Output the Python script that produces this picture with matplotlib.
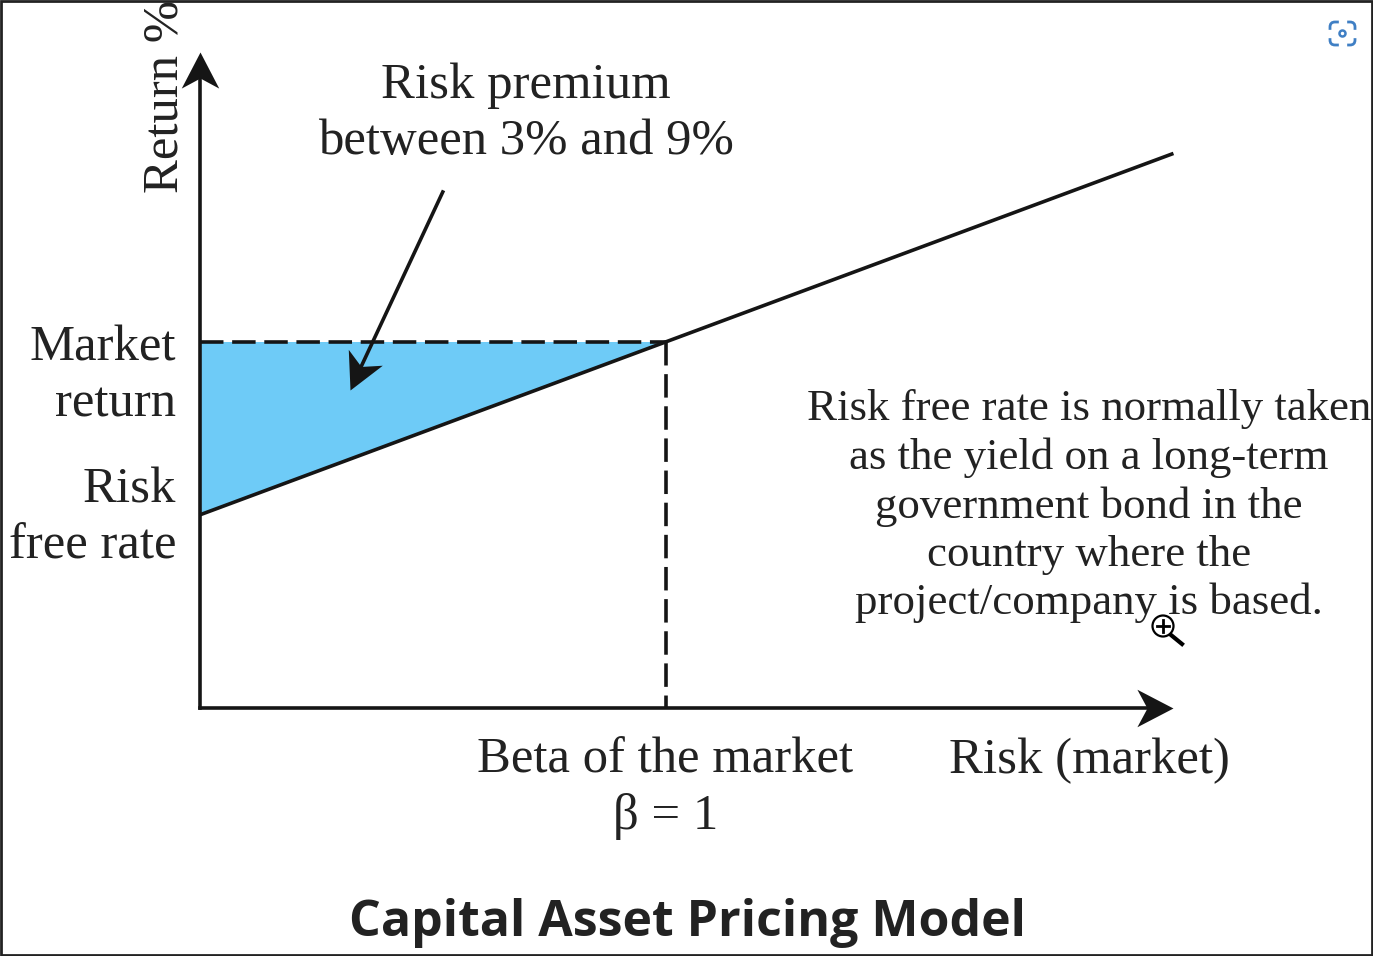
# Math:
import numpy as np

# Plotting:
import matplotlib.pyplot as plt
from matplotlib.markers import MarkerStyle
from matplotlib.patches import Polygon, Circle, Rectangle, FancyBboxPatch
from matplotlib.path import Path
from matplotlib.transforms import Affine2D

# ===== DATA =====
# Security market line, beta 0 to the end of the line
beta = [0.0, 1.0, 2.09]
expected_return = [0.0, 1.0, 2.09]

# Where the axes stop, in the same units as the line
risk_axis_end = 2.09
return_axis_end = 2.676
risk_axis_floor = -1.115

market_beta = 1.0
market_return = 1.0
risk_free_rate = 0.0

serif_fonts = ["Liberation Serif", "DejaVu Serif"]
title_font = "Open Sans"
line_color = "#151515"
text_color = "#222222"

width_px, height_px = 1373, 956

# Notched arrow head pointing along +x, tip at the origin
head_path = Path([(0, 0), (-1, 0.52), (-0.72, 0), (-1, -0.52), (0, 0)],
                 [Path.MOVETO, Path.LINETO, Path.LINETO, Path.LINETO, Path.CLOSEPOLY])


def draw_arrow(ax, start, tip):
    """Line with a notched head; the head angle is worked out on screen"""
    start_px, tip_px = ax.transData.transform([start, tip])
    delta = tip_px - start_px
    angle = np.degrees(np.arctan2(delta[1], delta[0]))
    # Stop the stem inside the head so it does not poke out of the tip
    stem_end = tip_px - delta / np.hypot(*delta) * 20
    stem_end = ax.transData.inverted().transform(stem_end)
    ax.plot([start[0], stem_end[0]], [start[1], stem_end[1]], color=line_color, lw=2.6, zorder=4,
            solid_capstyle="projecting")
    marker = MarkerStyle(head_path, transform=Affine2D().rotate_deg(angle))
    ax.plot([tip[0]], [tip[1]], marker=marker, markersize=52, color=line_color,
            markeredgewidth=0, zorder=5)


fig = plt.figure(figsize=(width_px / 100, height_px / 100), dpi=100)
ax = fig.add_axes([0, 0, 1, 1])
ax.set_xlim(-199.5 / 466, (width_px - 199.5) / 466)
# 1 unit of return is 173 px here (515 -> 342)
ax.set_ylim((515 - height_px) / 173, 515 / 173)
ax.axis("off")

text_style = dict(family=serif_fonts, color=text_color)

# Shaded risk premium
ax.add_patch(Polygon([(0, risk_free_rate), (0, market_return), (market_beta, market_return)],
                     closed=True, facecolor="#6ecbf7", edgecolor="none", zorder=1))

# Line
ax.plot(beta, expected_return, color=line_color, lw=2.6, zorder=3, solid_capstyle="butt")

# Dashed guides
ax.plot([0, market_beta], [market_return, market_return], color=line_color, lw=2.6,
        dashes=(6.5, 2.4), zorder=3)
ax.plot([market_beta, market_beta], [market_return, risk_axis_floor], color=line_color, lw=2.6,
        dashes=(6.5, 2.4), zorder=3)

# Axes arrows
draw_arrow(ax, (0, risk_axis_floor), (0, return_axis_end))
draw_arrow(ax, (0, risk_axis_floor), (risk_axis_end, risk_axis_floor))

# Risk premium pointer
draw_arrow(ax, (0.522, 1.867), (0.323, 0.72))

# Text
ax.text(0.7, 2.32, "Risk premium\nbetween 3% and 9%", ha="center", va="center", fontsize=36.5,
        linespacing=1.27, **text_style)
ax.text(-0.05, 0.80, "Market\nreturn", ha="right", va="center", fontsize=36.5, linespacing=1.27, **text_style)
ax.text(-0.05, -0.017, "Risk\nfree rate", ha="right", va="center", fontsize=36.5, linespacing=1.27, **text_style)
ax.text(-0.074, 2.42, "Return %", rotation=90, ha="center", va="center", fontsize=36.5, **text_style)
ax.text(1.908, 0.05, "Risk free rate is normally taken\nas the yield on a long-term\ngovernment bond in the\ncountry where the\nproject/company is based.",
        ha="center", va="center", fontsize=32.3, linespacing=1.26, **text_style)
ax.text(1.0, -1.58, "Beta of the market\n\u03b2 = 1", ha="center", va="center", fontsize=36.5,
        linespacing=1.27, **text_style)
ax.text(1.909, -1.42, "Risk (market)", ha="center", va="center", fontsize=36.5, **text_style)
ax.text(1.048, -2.36, "Capital Asset Pricing Model", ha="center", va="center", fontsize=36,
        family=title_font, weight="bold", color=text_color)

# Screenshot bits: frame, lens button and cursor, placed in pixels
overlay = fig.add_axes([0, 0, 1, 1])
overlay.set_xlim(0, width_px)
overlay.set_ylim(height_px, 0)
overlay.axis("off")
overlay.patch.set_alpha(0)

overlay.add_patch(Rectangle((1, 1), width_px - 2, height_px - 2, fill=False, edgecolor=text_color, lw=2))

# Lens button
icon_blue = "#3f7fc4"
overlay.add_patch(FancyBboxPatch((1330, 22), 25, 23, boxstyle="round,pad=0,rounding_size=5", fill=False,
                                 edgecolor=icon_blue, lw=2))
overlay.plot([1342.5, 1342.5], [18, 49], color="white", lw=6)
overlay.plot([1326, 1359], [33.5, 33.5], color="white", lw=6)
overlay.add_patch(Circle((1342.5, 33.5), 3, fill=False, edgecolor=icon_blue, lw=1.8, zorder=3))

# Zoom cursor
overlay.add_patch(Circle((1163, 626), 10.5, facecolor="white", edgecolor="black", lw=1.6, zorder=6))
overlay.plot([1171, 1182], [635, 644], color="black", lw=3, zorder=6)
overlay.plot([1157, 1169], [626, 626], color="black", lw=2, zorder=7)
overlay.plot([1163, 1163], [620, 632], color="black", lw=2, zorder=7)

fig.savefig("out.png", dpi=100)
